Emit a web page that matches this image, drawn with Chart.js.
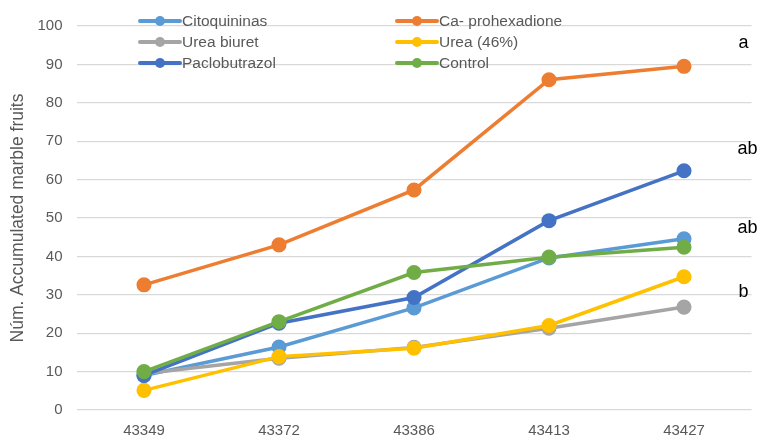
<!DOCTYPE html>
<html>
<head>
<meta charset="utf-8">
<script src="https://cdn.jsdelivr.net/npm/chart.js@4/dist/chart.umd.min.js"></script>
<style>
  html, body { margin: 0; padding: 0; background: #ffffff; }
  #wrap { width: 762px; height: 441px; }
</style>
</head>
<body>
<div id="wrap"><canvas id="c" width="762" height="441"></canvas></div>
<script>
const categories = ['43349', '43372', '43386', '43413', '43427'];

const citoquininas   = [9.0, 16.4, 26.6, 39.6, 44.6];
const caProhexadione = [32.6, 43.0, 57.3, 86.0, 89.5];
const ureaBiuret     = [9.5, 13.5, 16.3, 21.3, 26.8];
const urea46         = [5.1, 13.9, 16.1, 22.0, 34.7];
const paclobutrazol  = [9.0, 22.6, 29.3, 49.3, 62.3];
const control        = [10.0, 23.0, 35.8, 39.8, 42.4];

const seriesNames  = ['Citoquininas', 'Ca- prohexadione', 'Urea biuret', 'Urea (46%)', 'Paclobutrazol', 'Control'];
const seriesValues = [citoquininas, caProhexadione, ureaBiuret, urea46, paclobutrazol, control];
const seriesColors = ['#5B9BD5', '#ED7D31', '#A5A5A5', '#FFC000', '#4472C4', '#70AD47'];

// Significance letters shown at the right edge, with their vertical position in data units
const groupLetters = ['a', 'ab', 'ab', 'b'];
const groupLetterY = [95.5, 68, 47.4, 30.8];

const yTicks = [0, 10, 20, 30, 40, 50, 60, 70, 80, 90, 100];

const FONT = '"Liberation Sans", Arial, sans-serif';

const datasets = seriesNames.map((name, i) => ({
  label: name,
  data: seriesValues[i],
  borderColor: seriesColors[i],
  backgroundColor: seriesColors[i],
  pointBackgroundColor: seriesColors[i],
  pointBorderColor: seriesColors[i],
  borderWidth: 3.5,
  pointRadius: 5.8,
  pointHoverRadius: 5.8,
  tension: 0,
  order: seriesNames.length - i
}));

// Two-column legend drawn over the top of the plot
const legendPlugin = {
  id: 'columnLegend',
  afterDraw(chart) {
    const ctx = chart.ctx;
    const cols = [{ x: 140 }, { x: 397 }];
    const rowY = [21, 42, 63];
    ctx.save();
    ctx.font = '15.5px ' + FONT;
    ctx.textBaseline = 'middle';
    ctx.textAlign = 'left';
    seriesNames.forEach((name, i) => {
      const col = cols[i % 2];
      const y = rowY[Math.floor(i / 2)];
      ctx.strokeStyle = seriesColors[i];
      ctx.lineWidth = 4;
      ctx.lineCap = 'round';
      ctx.beginPath();
      ctx.moveTo(col.x, y);
      ctx.lineTo(col.x + 40, y);
      ctx.stroke();
      ctx.fillStyle = seriesColors[i];
      ctx.beginPath();
      ctx.arc(col.x + 20, y, 5, 0, Math.PI * 2);
      ctx.fill();
      ctx.fillStyle = '#595959';
      ctx.fillText(name, col.x + 42, y + 1);
    });
    ctx.restore();
  }
};

const lettersPlugin = {
  id: 'groupLetters',
  afterDraw(chart) {
    const ctx = chart.ctx;
    const yScale = chart.scales.y;
    const x = chart.chartArea.right - 3;
    ctx.save();
    ctx.font = '18px ' + FONT;
    ctx.fillStyle = '#000000';
    ctx.textAlign = 'right';
    ctx.textBaseline = 'middle';
    groupLetters.forEach((t, i) => {
      ctx.fillText(t, t.length > 1 ? x + 9 : x, yScale.getPixelForValue(groupLetterY[i]));
    });
    ctx.restore();
  }
};

new Chart(document.getElementById('c'), {
  type: 'line',
  data: { labels: categories, datasets },
  plugins: [legendPlugin, lettersPlugin],
  options: {
    responsive: false,
    animation: false,
    layout: { padding: { top: 26, right: 10.5, bottom: 0, left: 0 } },
    plugins: {
      legend: { display: false },
      tooltip: { enabled: false }
    },
    scales: {
      x: {
        offset: true,
        grid: { display: false, drawTicks: false },
        border: { display: false },
        ticks: { color: '#595959', font: { family: FONT, size: 15 }, padding: 12, maxRotation: 0 },
        afterFit(s) { s.height = 31; }
      },
      y: {
        min: 0,
        max: 100,
        afterBuildTicks(s) { s.ticks = yTicks.map(v => ({ value: v })); },
        grid: { color: '#D9D9D9', lineWidth: 1.2, drawTicks: false },
        border: { display: false },
        ticks: { color: '#595959', font: { family: FONT, size: 15 }, padding: 14 },
        title: {
          display: true,
          text: 'Núm. Accumulated marble fruits',
          color: '#595959',
          font: { family: FONT, size: 17.5 },
          padding: { top: 8, bottom: 2 }
        },
        afterFit(s) { s.width = 76.5; }
      }
    }
  }
});
</script>
</body>
</html>
